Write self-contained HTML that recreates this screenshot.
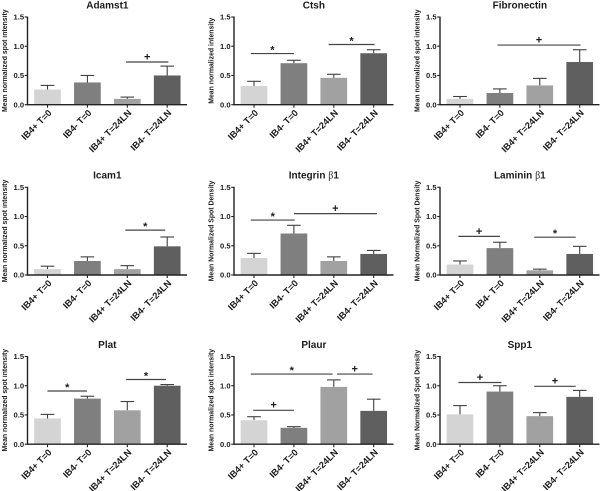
<!DOCTYPE html>
<html lang="en">
<head>
<meta charset="utf-8">
<title>Mean normalized spot intensity panels</title>
<style>
html,body{margin:0;padding:0;background:#fff;width:600px;height:491px;overflow:hidden}
svg{display:block;font-family:"Liberation Sans",Arial,sans-serif;filter:blur(0.3px)}
text{fill:#1c1c1c;font-weight:bold}
</style>
</head>
<body>
<svg id="figure" xmlns="http://www.w3.org/2000/svg" width="600" height="491" viewBox="0 0 600 491"></svg>
<script>
// Chart data
const categories = ["IB4+ T=0", "IB4- T=0", "IB4+ T=24LN", "IB4- T=24LN"];
const panelTitles = ["Adamst1", "Ctsh", "Fibronectin", "Icam1", "Integrin β1", "Laminin β1", "Plat", "Plaur", "Spp1"];
const yTitles = [
  "Mean normalized spot intensity", "Mean normalized intensity", "Mean normalized spot intensity",
  "Mean normalized spot intensity", "Mean Normalized Spot Density", "Mean Normalized Spot Density",
  "Mean normalized spot intensity", "Mean normalized spot intensity", "Mean Normalized Spot Density"
];
const yTicks = [0, 0.5, 1.0, 1.5];
const means = [
  [0.26, 0.38, 0.10, 0.50],
  [0.32, 0.71, 0.46, 0.88],
  [0.10, 0.20, 0.33, 0.73],
  [0.10, 0.24, 0.10, 0.49],
  [0.29, 0.71, 0.24, 0.36],
  [0.18, 0.46, 0.08, 0.36],
  [0.44, 0.78, 0.58, 1.00],
  [0.41, 0.28, 0.98, 0.57],
  [0.51, 0.90, 0.48, 0.81]
];
const errors = [
  [0.07, 0.12, 0.03, 0.16],
  [0.08, 0.05, 0.06, 0.06],
  [0.04, 0.07, 0.12, 0.21],
  [0.05, 0.07, 0.06, 0.16],
  [0.08, 0.14, 0.07, 0.06],
  [0.06, 0.10, 0.02, 0.13],
  [0.07, 0.04, 0.15, 0.02],
  [0.06, 0.02, 0.12, 0.20],
  [0.15, 0.10, 0.06, 0.11]
];
// Significance bars: category span, level on the y scale, symbol
const sigFrom = [[1.97], [-0.08, 1.87], [0.94], [1.95], [-0.08, 1.0], [-0.04, 1.86], [0, 1.97], [-0.08, 2.08, -0.02], [-0.04, 1.86]];
const sigTo = [[3.03], [1.0, 3.02], [3.02], [2.95], [1.02, 3.08], [1.0, 2.9], [0.99, 2.97], [1.97, 2.97, 1.0], [1.04, 2.9]];
const sigLevel = [[0.73], [0.875, 1.03], [1.02], [0.767], [0.94, 1.05], [0.66, 0.647], [0.91, 1.106], [1.20, 1.20, 0.58], [1.055, 0.99]];
const sigMark = [["+"], ["*", "*"], ["+"], ["*"], ["*", "+"], ["+", "*"], ["*", "*"], ["*", "+", "+"], ["+", "+"]];

// Layout
const axisLefts = [27.5, 234, 440];
const axisBottoms = [104.7, 275, 444.2];
const axisHeight = 87.7;
const firstBarOffset = 20;
const barStep = 39.9;
const barWidth = 26.7;
const axisLength = 159.5;
const barColors = ["#d4d4d4", "#7f7f7f", "#a1a1a1", "#5f5f5f"];
const ink = "#222222";
const svg = document.getElementById("figure");
const NS = "http://www.w3.org/2000/svg";

function make(tag, parent, name, attrs) {
  const el = document.createElementNS(NS, tag);
  
  
  for (const key in attrs) el.setAttribute(key, attrs[key]);
  parent.appendChild(el);
  return el;
}
function line(parent, name, x1, y1, x2, y2, color, width) {
  return make("line", parent, name, {x1: x1, y1: y1, x2: x2, y2: y2, stroke: color, "stroke-width": width});
}
function slug(s) {
  return s.toLowerCase().replace(/[^a-z0-9]+/g, "-").replace(/^-|-$/g, "");
}

panelTitles.forEach(function (title, p) {
  const left = axisLefts[p % 3];
  const bottom = axisBottoms[Math.floor(p / 3)];
  const xScale = function (i) { return left + firstBarOffset + i * barStep; };
  const yScale = function (v) { return bottom - (v / 1.5) * axisHeight; };
  const id = slug(title);
  const g = make("g", svg, "panel-" + id, {});

  // Bars and error bars
  categories.forEach(function (cat, i) {
    const cx = xScale(i);
    const topY = yScale(means[p][i]);
    const errY = yScale(means[p][i] + errors[p][i]);
    line(g, "error-bar-" + id + "-" + (i + 1), cx, topY, cx, errY, "#3f3f3f", 1.1);
    line(g, "error-cap-" + id + "-" + (i + 1), cx - 6.8, errY, cx + 6.8, errY, "#3f3f3f", 1.1);
    make("rect", g, "bar-" + id + "-" + (i + 1), {
      x: cx - barWidth / 2, y: topY, width: barWidth, height: bottom - topY, fill: barColors[i]
    });
  });

  // Axes
  line(g, "y-axis", left, yScale(1.5) - 0.5, left, bottom + 0.7, ink, 1.4);
  line(g, "x-axis", left, bottom, left + axisLength, bottom, ink, 1.4);

  yTicks.forEach(function (t) {
    line(g, "y-tick", left - 2.8, yScale(t), left, yScale(t), ink, 1.1);
    const label = make("text", g, "y-tick-label", {
      x: left - 3.4, y: yScale(t) + 2.7, "text-anchor": "end", "font-size": 7.6
    });
    label.textContent = t.toFixed(1);
  });

  categories.forEach(function (cat, i) {
    const cx = xScale(i);
    line(g, "x-tick", cx, bottom, cx, bottom + 3, ink, 1.1);
    const label = make("text", g, "x-tick-label", {
      transform: "translate(" + (cx + 2.5) + "," + (bottom + 6.5) + ") rotate(-45)",
      "text-anchor": "end", "font-size": 9.2, y: 3.2
    });
    label.textContent = cat;
  });

  // Panel title (beta is drawn in a serif face)
  const titleEl = make("text", g, "panel-title", {
    x: xScale(1.5), y: bottom - 96.3, "text-anchor": "middle", "font-size": 10
  });
  const parts = title.split("β");
  titleEl.appendChild(document.createTextNode(parts[0]));
  if (parts.length > 1) {
    const beta = make("tspan", titleEl, "beta-glyph", {"font-family": "'Liberation Serif',serif", "font-weight": "normal"});
    beta.textContent = "β";
    titleEl.appendChild(document.createTextNode(parts[1]));
  }

  // Y-axis title
  const yTitle = make("text", g, "y-axis-title", {
    transform: "translate(" + (left - 20.5) + "," + (bottom - 44) + ") rotate(-90)",
    "text-anchor": "middle", "font-size": 6.9
  });
  yTitle.textContent = yTitles[p];

  // Significance markers
  sigMark[p].forEach(function (mark, s) {
    const x1 = xScale(sigFrom[p][s]);
    const x2 = xScale(sigTo[p][s]);
    const y = yScale(sigLevel[p][s]);
    line(g, "significance-line", x1, y, x2, y, "#444444", 1.2);
    const sym = make("text", g, "significance-mark", {
      x: (x1 + x2) / 2, y: y - (mark === "*" ? 0 : 1.6), "text-anchor": "middle", "font-size": 11
    });
    sym.textContent = mark;
  });
});
</script>
</body>
</html>
